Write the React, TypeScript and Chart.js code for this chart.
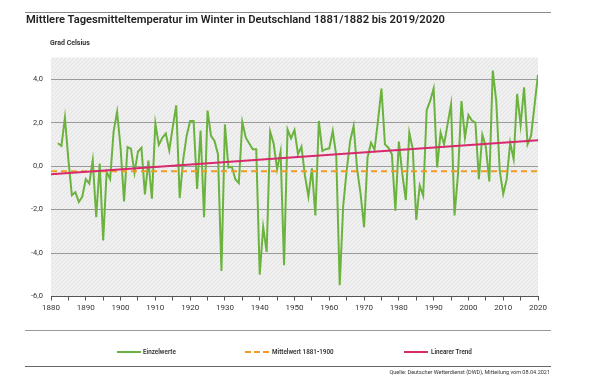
import React, { useEffect, useRef } from 'react';
import { Chart, registerables } from 'chart.js';

Chart.register(...registerables);

// Winter (DJF) mean temperature in Germany, winters 1881/82 ... 2019/20, plotted at the year of Jan/Feb
const firstWinterYear = 1882;
const winterMeans = [
  1.05, 0.93, 2.23, 0.3, -1.34, -1.2, -1.65, -1.4, -0.6, // 1882-1890
  -0.8, 0.27, -2.35, 0.12, -3.42, -0.26, -0.6, 1.6, 2.5, 0.85, // 1891-1900
  -1.62, 0.88, 0.8, -0.3, 0.67, 0.85, -1.3, 0.25, -1.5, 1.97, // 1901-1910
  0.98, 1.3, 1.5, 0.73, 1.8, 2.8, -1.47, 0.3, 1.4, 2.08, // 1911-1920
  2.08, -1.05, 1.64, -2.35, 2.56, 1.39, 1.16, 0.55, -4.82, 1.92, // 1921-1930
  -0.06, -0.03, -0.6, -0.78, 2.03, 1.31, 1.04, 0.78, 0.78, -4.99, // 1931-1940
  -2.81, -3.95, 1.59, 1.04, -0.14, 0.67, -4.56, 1.69, 1.28, 1.66, // 1941-1950
  0.55, 0.9, -0.44, -1.4, -0.1, -2.27, 2.08, 0.7, 0.78, 0.82, // 1951-1960
  1.62, 0.5, -5.48, -1.82, -0.2, 1.16, 1.85, -0.14, -1.28, -2.81, // 1961-1970
  0.4, 1.08, 0.75, 2.08, 3.57, 1.0, 0.85, 0.55, -2.05, 1.13, // 1971-1980
  -0.37, -1.56, 1.54, 0.78, -2.47, -0.9, -1.36, 2.58, 3.0, 3.57, // 1981-1990
  -0.06, 1.54, 1.0, 1.92, 2.84, -2.27, -0.37, 2.99, 1.31, 2.35, // 1991-2000
  2.1, 2.0, -0.6, 1.44, 0.89, -0.7, 4.4, 2.99, -0.21, -1.28, // 2001-2010
  -0.6, 1.08, 0.32, 3.33, 1.89, 3.63, 1.0, 1.39, 2.8, 4.21, // 2011-2020
];

const meanYears = [1880, 2020];
const meanValues = [-0.24, -0.24];
const trendYears = [1880, 2020];
const trendValues = [-0.37, 1.19];
const yTickValues = [-6, -4, -2, 0, 2, 4];

const FONT = 'Roboto, "Liberation Sans", Arial, sans-serif';

const plotBg = {
  id: 'plotBg',
  beforeDraw(chart: any) {
    const { ctx, chartArea: a } = chart;
    const p = document.createElement('canvas');
    p.width = 4;
    p.height = 4;
    const pc = p.getContext('2d')!;
    pc.fillStyle = '#f0f0f0';
    pc.fillRect(0, 0, 4, 4);
    pc.strokeStyle = '#e3e3e3';
    pc.lineWidth = 1;
    pc.beginPath();
    pc.moveTo(0, 4);
    pc.lineTo(4, 0);
    pc.stroke();
    const pat = ctx.createPattern(p, 'repeat');
    ctx.save();
    ctx.fillStyle = pat;
    ctx.fillRect(a.left, a.top, a.right - a.left, a.bottom - a.top);
    ctx.restore();
  },
};

export default function App() {
  const ref = useRef<HTMLCanvasElement>(null);

  useEffect(() => {
    const series = winterMeans.map((v, i) => ({ x: firstWinterYear + i, y: v }));
    const mean = meanYears.map((x, i) => ({ x, y: meanValues[i] }));
    const trend = trendYears.map((x, i) => ({ x, y: trendValues[i] }));
    const chart = new Chart(ref.current!, {
      type: 'line',
      data: {
        datasets: [
          { label: 'Linearer Trend', data: trend, borderColor: '#d7296b', borderWidth: 2, pointRadius: 0, order: 0 },
          { label: 'Mittelwert 1881-1900', data: mean, borderColor: '#ee9c26', borderWidth: 2, borderDash: [6, 4], pointRadius: 0, order: 1 },
          { label: 'Einzelwerte', data: series, borderColor: '#6bb33e', borderWidth: 2, pointRadius: 0, order: 2 },
        ],
      },
      options: {
        animation: false,
        responsive: false,
        layout: { padding: { left: 6, right: 51, top: 57.5, bottom: 0 } },
        plugins: { legend: { display: false }, tooltip: { enabled: false } },
        scales: {
          x: {
            type: 'linear',
            min: 1880,
            max: 2020,
            ticks: {
              stepSize: 5,
              autoSkip: false,
              maxRotation: 0,
              padding: 3,
              color: '#333',
              font: { size: 8, family: FONT },
              callback: (v: any) => (Number(v) % 10 === 0 ? String(v) : ''),
            },
            grid: { drawOnChartArea: false, drawTicks: true, tickLength: 4, color: '#555' },
            border: { display: true, color: '#555', width: 1 },
            afterFit: (s: any) => { s.height = 84.5; },
          },
          y: {
            min: -6,
            max: 5,
            afterBuildTicks: (s: any) => { s.ticks = yTickValues.map((v) => ({ value: v })); },
            ticks: {
              padding: 8,
              color: '#333',
              font: { size: 7.5, family: FONT },
              callback: (v: any) => Number(v).toFixed(1).replace('.', ','),
            },
            grid: { color: '#9a9a9a', drawTicks: false, lineWidth: 1 },
            border: { display: false },
            afterFit: (s: any) => { s.width = 45; },
          },
        },
      },
      plugins: [plotBg],
    } as any);
    return () => chart.destroy();
  }, []);

  const legendText: React.CSSProperties = { position: 'absolute', top: 348, fontSize: 6.3, fontWeight: 600, color: '#333', whiteSpace: 'nowrap', lineHeight: '8px' };
  const legendLine = (left: number, color: string, dashed = false): React.CSSProperties => ({
    position: 'absolute', left, top: 351, width: 24, height: 0,
    borderTop: `2px ${dashed ? 'dashed' : 'solid'} ${color}`,
  });

  return (
    <div style={{ position: 'fixed', left: 0, top: 0, width: 589, height: 381, background: '#fff', overflow: 'hidden', fontFamily: FONT }}>
      <canvas ref={ref} width={589} height={381} style={{ position: 'absolute', left: 0, top: 0 }} />
      <div style={{ position: 'absolute', left: 25, top: 12, width: 526, borderTop: '1px solid #8a8a8a' }} />
      <div style={{ position: 'absolute', left: 26, top: 13, fontSize: 11.2, fontWeight: 600, color: '#222', whiteSpace: 'nowrap' }}>
        Mittlere Tagesmitteltemperatur im Winter in Deutschland 1881/1882 bis 2019/2020
      </div>
      <div style={{ position: 'absolute', left: 50, top: 39, fontSize: 7, fontWeight: 700, color: '#333', whiteSpace: 'nowrap' }}>
        Grad Celsius
      </div>
      <div style={{ position: 'absolute', left: 25, top: 330, width: 526, borderTop: '1px solid #9a9a9a' }} />
      <div style={legendLine(117, '#6bb33e')} />
      <div style={{ ...legendText, left: 143 }}>Einzelwerte</div>
      <div style={legendLine(245, '#ee9c26', true)} />
      <div style={{ ...legendText, left: 272 }}>Mittelwert 1881-1900</div>
      <div style={legendLine(404, '#d7296b')} />
      <div style={{ ...legendText, left: 431 }}>Linearer Trend</div>
      <div style={{ position: 'absolute', left: 25, top: 366, width: 526, borderTop: '1px solid #666' }} />
      <div style={{ position: 'absolute', right: 39, top: 369, fontSize: 5.5, color: '#333', whiteSpace: 'nowrap', lineHeight: '6px' }}>
        Quelle: Deutscher Wetterdienst (DWD), Mitteilung vom 08.04.2021
      </div>
    </div>
  );
}
